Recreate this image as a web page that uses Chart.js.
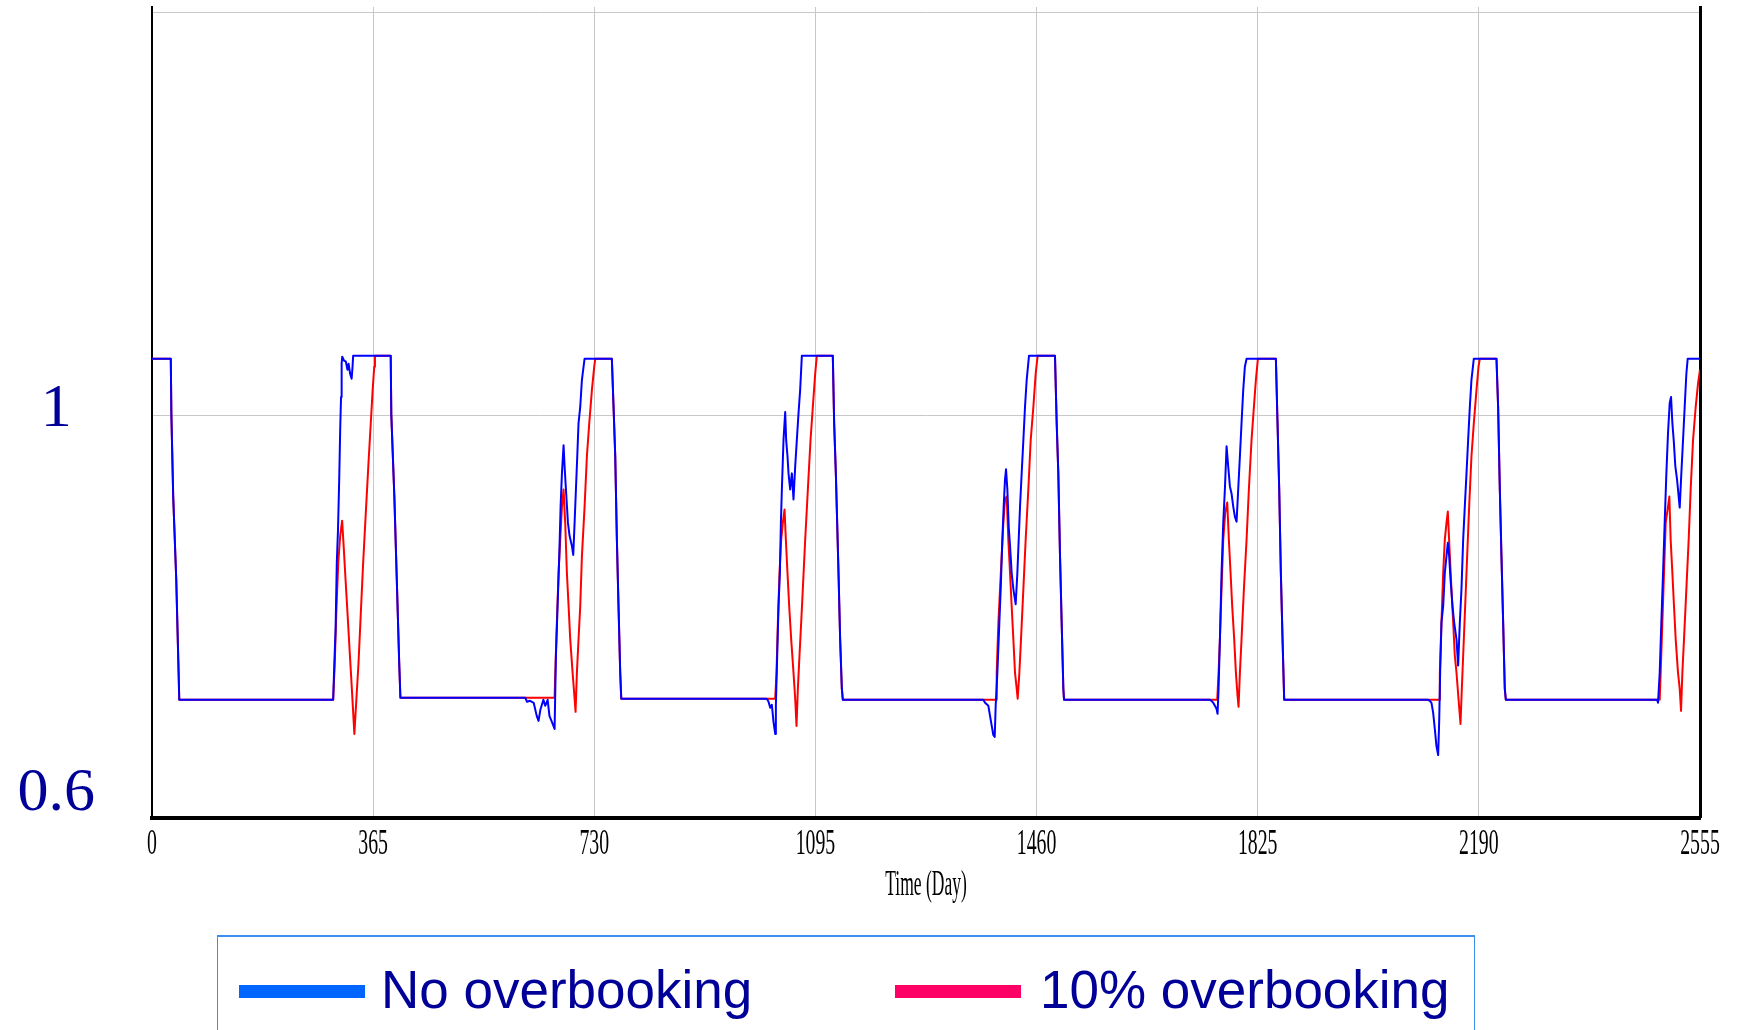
<!DOCTYPE html>
<html>
<head>
<meta charset="utf-8">
<script src="https://cdn.jsdelivr.net/npm/chart.js@4.4.1/dist/chart.umd.min.js"></script>
<style>
  html, body { margin: 0; padding: 0; overflow: hidden; background: #fff; }
  body { position: relative; width: 1744px; height: 1030px; }
  #myChart { position: absolute; left: 0; top: 0; }
  .legend-box { position: absolute; left: 217px; top: 935px; width: 1256px; height: 200px;
    border: 1px solid #3d8fef; border-top-width: 2px; }
  .swatch { position: absolute; top: 985px; height: 13px; width: 126px; }
  .legend-label { position: absolute; top: 963px; font: 53px/53px "Liberation Sans", Arial, sans-serif;
    color: #000099; white-space: nowrap; }
</style>
</head>
<body>
<canvas id="myChart" width="1744" height="1030"></canvas>
<div class="legend-box"></div>
<div class="swatch" style="left:239px; background:#0066ff"></div>
<div class="legend-label" style="left:381px">No overbooking</div>
<div class="swatch" style="left:895px; background:#ff0066"></div>
<div class="legend-label" style="left:1040px">10% overbooking</div>
<script>
// x axis ticks (days)
const xTickDays = [0, 365, 730, 1095, 1460, 1825, 2190, 2555];
const yTickValues = [0.6, 1, 1.4];

// "No overbooking" series
const noOverbookingDays = [
    0, 31, 32, 35, 40, 43.5, 45,
    299, 301, 303, 305, 307, 309, 310.6, 312, 313, 314, 317, 320, 322.6, 324.5, 327, 329.5, 331, 332,
    394, 395, 400, 404, 408, 410,
    616, 619, 624, 630, 635, 638, 641, 646, 649, 653, 656, 660, 664.5, 666.7, 669.4, 672.2, 674.4, 676.6,
    679.3, 681, 683.2, 686.5, 689.2, 693, 695.3, 697.5, 699.7, 701.9, 704, 706.8, 709.6, 712.3, 714,
    759, 761.8, 764.6, 767.3, 770, 772.8, 774.5,
    1014.8, 1017.6, 1020.4, 1023.1, 1025.8, 1028.6, 1029.7, 1031.9, 1034.1, 1036.3, 1038, 1039.6, 1042.3,
    1045.1, 1046.7, 1048.9, 1050.6, 1053.3, 1056.1, 1057.2, 1058.8, 1061.6, 1064.3, 1067.1, 1069.8, 1072.6,
    1123.7, 1125.9, 1128.7, 1130.9, 1133.1, 1135.8, 1138.6, 1140.2,
    1372.2, 1375, 1380.4, 1383.2, 1386, 1388.6, 1390.9, 1392.5, 1395.3, 1398.6, 1400.8, 1403.5, 1405.7,
    1407.9, 1409.6, 1411.8, 1414, 1416.2, 1418.9, 1421.7, 1425.5, 1428.3, 1430.5, 1432.7, 1435.4, 1438.2,
    1440.9, 1443.7, 1447.5,
    1490.4, 1493.2, 1495.9, 1498.7, 1501.4, 1504.2, 1505.3,
    1746.1, 1748.8, 1751.6, 1754.3, 1757, 1758.7, 1760.4, 1762.6, 1765.3, 1768.1, 1770.8, 1773.6, 1776.3,
    1779.1, 1781.8, 1784.6, 1787.3, 1790.1, 1792.8, 1795.6, 1798.3, 1801.1, 1803.8, 1806.6,
    1855, 1857.7, 1860.5, 1863.2, 1866, 1868.7,
    2106.3, 2109.1, 2111.8, 2114.6, 2117.3, 2120, 2122.8, 2124.5, 2126.1, 2128.3, 2131.1, 2133.8, 2136.6,
    2138.8, 2141, 2143.2, 2146.5, 2149.2, 2153.1, 2155.8, 2158.6, 2161.3, 2164.1, 2166.8, 2169.6, 2172.3,
    2175.1, 2177.8, 2181.7,
    2219.1, 2221.8, 2224.6, 2227.3, 2230.1, 2232.8, 2234.5,
    2484.1, 2485.7, 2488.5, 2491.2, 2494, 2496.7, 2499.5, 2502.2, 2505, 2507.2, 2509.4, 2511.6, 2514.3,
    2517.1, 2519.3, 2521.5, 2524.2, 2527, 2529.7, 2532.5, 2534.7, 2555
];
const noOverbookingValues = [
    1.056, 1.056, 1.0, 0.919, 0.837, 0.754, 0.717,
    0.717, 0.754, 0.787, 0.853, 0.886, 0.936, 0.985, 1.018, 1.051, 1.058, 1.054, 1.053, 1.045, 1.051, 1.041, 1.036, 1.048, 1.059,
    1.059, 1.0, 0.919, 0.837, 0.754, 0.719,
    0.719, 0.715, 0.716, 0.714, 0.701, 0.696, 0.707, 0.717, 0.711, 0.717, 0.701, 0.695, 0.688, 0.761, 0.810, 0.860, 0.909, 0.942,
    0.970, 0.949, 0.926, 0.893, 0.880, 0.870, 0.861, 0.893, 0.926, 0.959, 0.992, 1.008, 1.035, 1.048, 1.056,
    1.056, 1.008, 0.959, 0.876, 0.810, 0.744, 0.718,
    0.718, 0.715, 0.709, 0.712, 0.695, 0.683, 0.711, 0.761, 0.810, 0.843, 0.893, 0.926, 0.975,
    1.003, 0.975, 0.959, 0.942, 0.926, 0.942, 0.932, 0.916, 0.949, 0.975, 1.002, 1.025, 1.059,
    1.059, 0.992, 0.942, 0.893, 0.843, 0.777, 0.728, 0.717,
    0.717, 0.714, 0.711, 0.701, 0.691, 0.682, 0.680, 0.711, 0.744, 0.794, 0.827, 0.876, 0.909,
    0.936, 0.946, 0.926, 0.889, 0.870, 0.843, 0.827, 0.812, 0.843, 0.876, 0.909, 0.942, 0.975,
    1.008, 1.035, 1.059,
    1.059, 0.992, 0.942, 0.860, 0.794, 0.728, 0.717,
    0.717, 0.716, 0.714, 0.711, 0.708, 0.703, 0.728, 0.777, 0.843, 0.893, 0.926, 0.969, 0.949,
    0.929, 0.922, 0.909, 0.899, 0.894, 0.926, 0.959, 0.992, 1.025, 1.048, 1.056,
    1.056, 0.992, 0.926, 0.843, 0.777, 0.717,
    0.717, 0.716, 0.714, 0.704, 0.688, 0.671, 0.662, 0.695, 0.744, 0.794, 0.810, 0.843, 0.860,
    0.873, 0.860, 0.837, 0.810, 0.794, 0.777, 0.751, 0.794, 0.827, 0.876, 0.909, 0.942, 0.975,
    1.008, 1.035, 1.056,
    1.056, 1.008, 0.926, 0.860, 0.794, 0.728, 0.717,
    0.717, 0.714, 0.744, 0.794, 0.843, 0.893, 0.942, 0.982, 1.012, 1.018, 0.992, 0.975, 0.949,
    0.936, 0.922, 0.908, 0.942, 0.975, 1.008, 1.041, 1.056, 1.056
];

// "10% overbooking" series
const overbookingDays = [
    0, 31, 32, 35, 40, 43.5, 45,
    299, 301.7, 304.2, 307.4, 310.6, 313.8, 316.3, 319.4, 322.6, 325.7, 328.9, 332, 334,
    337.1, 340.9, 344.7, 348.5, 352.9, 357.3, 361.1, 364.2, 366.8, 368,
    394, 395, 400, 404, 408, 410,
    664.5, 665.6, 668.3, 671, 673.8, 676.6, 679.3, 682, 684.8, 687.6, 690.3, 694.2, 697.5, 699.1,
    701.3, 704, 706.8, 709.6, 714, 717.8, 721.7, 726.1, 729.9, 731.6,
    759, 761.8, 764.6, 767.3, 770, 772.8, 774.5,
    1028.6, 1030.8, 1033, 1035.7, 1038.5, 1041.2, 1044, 1046.2, 1048.9, 1051.7, 1055, 1058.8, 1061.6, 1063.8,
    1066, 1068.7, 1071.5, 1074.2, 1078.1, 1082.5, 1086.9, 1090.7, 1094.6, 1097.3,
    1123.7, 1125.9, 1128.7, 1130.9, 1133.1, 1135.8, 1138.6, 1140.2,
    1393.1, 1394.2, 1397, 1399.7, 1402.4, 1405.2, 1407.9, 1410.7, 1413.4, 1416.2, 1418.9, 1421.7, 1424.4,
    1427.2, 1428.8, 1431.6, 1434.3, 1438.2, 1442, 1446.4, 1450.3, 1454.7, 1458.5, 1461.8,
    1490.4, 1493.2, 1495.9, 1498.7, 1501.4, 1504.2, 1505.3,
    1758.2, 1760.4, 1762.6, 1765.3, 1768.1, 1771.4, 1774.7, 1777.4, 1780.2, 1782.9, 1786.2, 1789, 1791.7,
    1793.4, 1795.6, 1798.3, 1802.2, 1806.6, 1810.4, 1814.8, 1818.7, 1822, 1825.3,
    1855, 1857.7, 1860.5, 1863.2, 1866, 1868.7,
    2124.5, 2125.6, 2128.3, 2131.1, 2133.8, 2136.6, 2138.8, 2142.1, 2144.8, 2147.6, 2150.3, 2153.1, 2156.4,
    2159.7, 2161.9, 2164.1, 2167.4, 2170.7, 2174, 2177.8, 2181.7, 2186.1, 2189.4, 2191.6,
    2219.1, 2221.8, 2224.6, 2227.3, 2230.1, 2232.8, 2234.5,
    2488.5, 2490.1, 2492.9, 2495.6, 2498.4, 2502.2, 2504.4, 2506.6, 2509.4, 2512.1, 2514.9, 2518.7, 2521.5,
    2523.7, 2525.9, 2528.6, 2532.5, 2536.3, 2539.6, 2543.5, 2547.9, 2551.7, 2555
];
const overbookingValues = [
    1.056, 1.056, 1.0, 0.919, 0.837, 0.754, 0.717,
    0.717, 0.754, 0.804, 0.853, 0.880, 0.895, 0.870, 0.837, 0.804, 0.771, 0.738, 0.705, 0.683,
    0.715, 0.754, 0.804, 0.853, 0.903, 0.952, 0.992, 1.025, 1.048, 1.059,
    1.059, 1.0, 0.919, 0.837, 0.754, 0.719,
    0.719, 0.744, 0.794, 0.843, 0.876, 0.909, 0.926, 0.893, 0.843, 0.810, 0.777, 0.744, 0.718, 0.705,
    0.744, 0.777, 0.810, 0.860, 0.909, 0.959, 0.992, 1.025, 1.048, 1.056,
    1.056, 1.008, 0.959, 0.876, 0.810, 0.744, 0.718,
    0.718, 0.744, 0.794, 0.843, 0.876, 0.893, 0.906, 0.876, 0.843, 0.810, 0.777, 0.744, 0.718, 0.691,
    0.728, 0.761, 0.794, 0.827, 0.876, 0.926, 0.975, 1.008, 1.041, 1.059,
    1.059, 0.992, 0.942, 0.893, 0.843, 0.777, 0.728, 0.717,
    0.717, 0.744, 0.794, 0.827, 0.860, 0.893, 0.916, 0.919, 0.876, 0.843, 0.810, 0.777, 0.744,
    0.728, 0.718, 0.744, 0.777, 0.827, 0.876, 0.926, 0.975, 1.008, 1.041, 1.059,
    1.059, 0.992, 0.942, 0.860, 0.794, 0.728, 0.717,
    0.717, 0.744, 0.777, 0.827, 0.876, 0.903, 0.913, 0.876, 0.843, 0.810, 0.777, 0.744, 0.721,
    0.710, 0.744, 0.777, 0.827, 0.876, 0.926, 0.975, 1.008, 1.035, 1.056,
    1.056, 0.992, 0.926, 0.843, 0.777, 0.717,
    0.717, 0.744, 0.794, 0.843, 0.876, 0.893, 0.904, 0.860, 0.827, 0.794, 0.761, 0.744, 0.718,
    0.693, 0.728, 0.761, 0.810, 0.860, 0.909, 0.959, 0.992, 1.025, 1.048, 1.056,
    1.056, 1.008, 0.926, 0.860, 0.794, 0.728, 0.717,
    0.717, 0.744, 0.794, 0.843, 0.893, 0.909, 0.919, 0.876, 0.843, 0.810, 0.777, 0.744, 0.728,
    0.706, 0.744, 0.777, 0.827, 0.876, 0.926, 0.975, 1.008, 1.031, 1.045
];

const toPoints = (days, values) => days.map((d, i) => ({ x: d, y: values[i] }));

// x tick labels and axis title are drawn squeezed, like the original export
const xLabelsPlugin = {
    id: 'xLabels',
    afterDraw(chart) {
        const { ctx, chartArea } = chart;
        const x = chart.scales.x;
        ctx.save();
        ctx.fillStyle = '#000';
        ctx.textAlign = 'center';
        ctx.textBaseline = 'middle';
        ctx.font = '36px "Liberation Serif"';
        x.ticks.forEach(t => {
            ctx.save();
            ctx.translate(x.getPixelForValue(t.value), chartArea.bottom + 27.5);
            ctx.scale(0.55, 1);
            ctx.fillText(String(t.value), 0, 0);
            ctx.restore();
        });
        ctx.font = '35px "Liberation Serif"';
        ctx.translate((chartArea.left + chartArea.right) / 2, chartArea.bottom + 68);
        ctx.scale(0.5, 1);
        ctx.fillText('Time (Day)', 0, 0);
        ctx.restore();
    }
};

// keep the axes from reserving extra room for their labels
const noPadding = scale => {
    scale.paddingTop = 0;
    scale.paddingBottom = 0;
    scale.paddingLeft = 0;
    scale.paddingRight = 0;
};

const ctx = document.getElementById('myChart').getContext('2d');

new Chart(ctx, {
    type: 'line',
    data: {
        datasets: [{
            label: 'No overbooking',
            data: toPoints(noOverbookingDays, noOverbookingValues),
            borderColor: '#0000ff',
            borderWidth: 2,
            borderJoinStyle: 'round',
            pointRadius: 0,
            tension: 0
        }, {
            label: '10% overbooking',
            data: toPoints(overbookingDays, overbookingValues),
            borderColor: '#ff0000',
            borderWidth: 2,
            borderJoinStyle: 'round',
            pointRadius: 0,
            tension: 0
        }]
    },
    options: {
        responsive: false,
        animation: false,
        layout: { padding: { top: 7, right: 44, bottom: 212.5, left: 0 } },
        plugins: {
            legend: { display: false },
            tooltip: { enabled: false }
        },
        scales: {
            x: {
                type: 'linear',
                min: 0,
                max: 2555,
                afterBuildTicks: scale => { scale.ticks = xTickDays.map(v => ({ value: v })); },
                afterFit: scale => { scale.height = 0; noPadding(scale); },
                ticks: { display: false },
                grid: { color: '#c8c8c8', lineWidth: 1, drawTicks: false },
                border: { color: '#000', width: 4 }
            },
            y: {
                type: 'linear',
                min: 0.6,
                max: 1.4055,
                afterBuildTicks: scale => { scale.ticks = yTickValues.map(v => ({ value: v })); },
                afterFit: scale => { scale.width = 152; noPadding(scale); },
                ticks: {
                    callback: v => v === 0.6 ? ['0.6', ''] : (v === 1 ? '1' : ''),
                    font: { family: '"Liberation Serif"', size: 62, lineHeight: 0.6 },
                    color: '#000099',
                    crossAlign: 'center',
                    padding: 57,
                    labelOffset: -5
                },
                grid: { color: '#c8c8c8', lineWidth: 1, drawTicks: false },
                border: { color: '#000', width: 2 }
            },
            yRight: {
                type: 'linear',
                position: 'right',
                display: true,
                afterFit: scale => { scale.width = 0; noPadding(scale); },
                ticks: { display: false },
                grid: { display: false, drawTicks: false },
                border: { display: true, color: '#000', width: 3 }
            }
        }
    },
    plugins: [xLabelsPlugin]
});
</script>
</body>
</html>
